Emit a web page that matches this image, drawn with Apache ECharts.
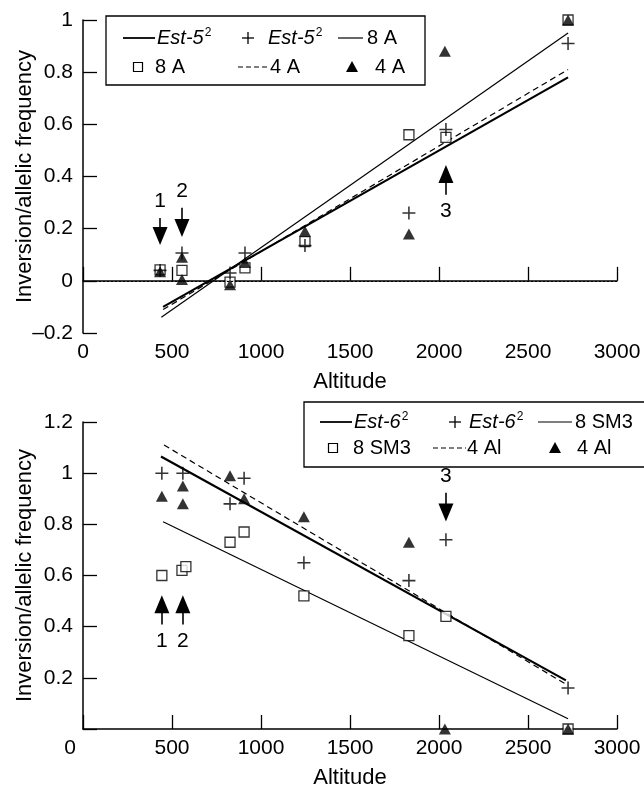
<!DOCTYPE html>
<html>
<head>
<meta charset="utf-8">
<script src="https://cdn.jsdelivr.net/npm/echarts@6/dist/echarts.min.js"></script>
<style>
  html, body { margin: 0; background: #fff; }
  #chart { width: 644px; height: 790px; }
</style>
</head>
<body>
<div id="chart"></div>
<script>
// upper panel: Est-5^2 allele, 8 A and 4 A arrangements
var est5Pts = [[433, 0.04], [556, 0.107], [826, 0.03], [910, 0.107], [1247, 0.135], [1831, 0.26], [2039, 0.58], [2725, 0.91]];
var a8Pts = [[433, 0.042], [556, 0.04], [826, -0.005], [910, 0.05], [1247, 0.15], [1831, 0.56], [2039, 0.55], [2725, 1.0]];
var a4Pts = [[433, 0.035], [556, 0.09], [556, 0.005], [826, -0.015], [910, 0.07], [1247, 0.19], [1831, 0.18], [2033, 0.88], [2725, 1.0]];
// fitted lines (two ends)
var est5Fit = [[450, -0.10], [2725, 0.78]];
var a8Fit = [[440, -0.14], [2725, 0.95]];
var a4Fit = [[450, -0.11], [2725, 0.81]];
// arrows: label, altitude, tail value, head value
var arrowsTop = [['1', 433, 0.241, 0.172], ['2', 556, 0.28, 0.203], ['3', 2039, 0.33, 0.41]];

// lower panel: Est-6^2 allele, 8 SM3 and 4 Al arrangements
var est6Pts = [[443, 1.0], [561, 1.0], [826, 0.88], [905, 0.98], [1241, 0.65], [1831, 0.58], [2039, 0.74], [2725, 0.16]];
var sm3Pts = [[443, 0.60], [556, 0.62], [578, 0.635], [826, 0.73], [905, 0.77], [1241, 0.52], [1831, 0.365], [2039, 0.44], [2725, 0.0]];
var alPts = [[443, 0.91], [561, 0.95], [561, 0.88], [826, 0.99], [905, 0.90], [1241, 0.83], [1831, 0.73], [2033, 0.0], [2725, 0.0]];
var est6Fit = [[438, 1.065], [2713, 0.19]];
var sm3Fit = [[450, 0.81], [2725, 0.04]];
var alFit = [[455, 1.11], [2713, 0.175]];
var arrowsBottom = [['1', 443, 0.408, 0.488], ['2', 561, 0.408, 0.488], ['3', 2039, 0.923, 0.846]];

var FONT = '"Liberation Sans", Arial, sans-serif';
var INK = '#000';
var PLUS = 'path://M44,0H56V44H100V56H56V100H44V56H0V44H44Z';

var myChart = echarts.init(document.getElementById('chart'));

function axisX(idx, shiftZero) {
  return {
    type: 'value', gridIndex: idx, min: 0, max: 3000, interval: 500,
    name: 'Altitude', nameLocation: 'middle', nameGap: 38, nameMoveOverlap: false,
    nameTextStyle: { color: INK, fontSize: 22, fontFamily: FONT },
    axisLine: { lineStyle: { color: INK, width: 1.5 } },
    axisTick: { inside: true, length: 14, lineStyle: { color: INK, width: 1.3 } },
    splitLine: { show: false },
    axisLabel: {
      color: INK, fontSize: 21, fontFamily: FONT, margin: 9,
      formatter: function (v) { return (shiftZero && v === 0) ? '{z|0}' : String(v) },
      rich: { z: { fontSize: 21, fontFamily: FONT, color: INK, padding: [0, 26, 0, 0] } }
    }
  }
}

function axisY(idx, min, max, fmt) {
  return {
    type: 'value', gridIndex: idx, min: min, max: max, interval: 0.2,
    name: 'Inversion/allelic frequency', nameLocation: 'middle', nameGap: 47, nameMoveOverlap: false,
    nameTextStyle: { color: INK, fontSize: 22, fontFamily: FONT },
    axisLine: { show: true, lineStyle: { color: INK, width: 1.5 } },
    axisTick: { show: true, inside: true, length: 14, lineStyle: { color: INK, width: 1.3 } },
    splitLine: { show: false },
    axisLabel: { color: INK, fontSize: 21, fontFamily: FONT, margin: 10, formatter: fmt }
  }
}

function fmtTop(v) {
  v = Math.round(v * 10) / 10
  if (v === 0) return '0'
  if (v < 0) return '\u2013' + String(-v)
  return String(v)
}
function fmtBottom(v) {
  v = Math.round(v * 10) / 10
  return v === 0 ? '' : String(v)
}

function pts(name, idx, data, kind) {
  var s = { name: name, type: 'scatter', xAxisIndex: idx, yAxisIndex: idx, data: data, silent: true }
  if (kind === 'cross') {
    s.symbol = PLUS; s.symbolSize = 13
    s.itemStyle = { color: INK }
    s.z = 4
  } else if (kind === 'square') {
    s.symbol = 'rect'; s.symbolSize = 10
    s.itemStyle = { color: '#fff', borderColor: INK, borderWidth: 1.3 }
    s.z = 2
  } else {
    s.symbol = 'triangle'; s.symbolSize = [12, 11]
    s.itemStyle = { color: INK }
    s.z = 3
  }
  return s
}

function fit(name, idx, data, width, dashed) {
  return {
    name: name, type: 'line', xAxisIndex: idx, yAxisIndex: idx, data: data,
    symbol: 'none', silent: true, z: 1,
    lineStyle: { color: INK, width: width, type: dashed ? [6, 4] : 'solid' }
  }
}

function arrowMark(list) {
  return {
    silent: true, animation: false,
    symbol: ['none', 'triangle'], symbolSize: [15, 18],
    lineStyle: { color: INK, width: 1.6, type: 'solid' },
    label: { show: true, position: 'start', distance: 6, formatter: '{b}', color: INK, fontSize: 21, fontFamily: FONT },
    data: list.map(function (a) {
      return [{ coord: [a[1], a[2]], name: a[0] }, { coord: [a[1], a[3]] }]
    })
  }
}

// legend boxes drawn as graphics
function legendItems(box, rows) {
  var els = [{
    type: 'rect', shape: { x: box[0], y: box[1], width: box[2], height: box[3] },
    style: { fill: 'none', stroke: INK, lineWidth: 1.3 }
  }]
  rows.forEach(function (it) {
    var y = it.y
    if (it.type === 'line') {
      els.push({ type: 'line', shape: { x1: it.x1, y1: y, x2: it.x2, y2: y },
        style: { stroke: INK, lineWidth: it.w || 1.2, lineDash: it.dash ? [5, 3] : null } })
    } else if (it.type === 'square') {
      els.push({ type: 'rect', shape: { x: it.x - 4.5, y: y - 4.5, width: 9, height: 9 },
        style: { fill: '#fff', stroke: INK, lineWidth: 1.2 } })
    } else if (it.type === 'tri') {
      els.push({ type: 'polygon', shape: { points: [[it.x, y - 6], [it.x - 6, y + 5], [it.x + 6, y + 5]] },
        style: { fill: INK } })
    } else if (it.type === 'plus') {
      els.push({ type: 'line', shape: { x1: it.x - 6, y1: y, x2: it.x + 6, y2: y }, style: { stroke: INK, lineWidth: 1.3 } })
      els.push({ type: 'line', shape: { x1: it.x, y1: y - 6, x2: it.x, y2: y + 6 }, style: { stroke: INK, lineWidth: 1.3 } })
    } else {
      els.push({ type: 'text', x: it.x, y: y,
        style: {
          text: it.text, fill: INK, font: '20px ' + FONT, verticalAlign: 'middle', align: 'left',
          rich: {
            n: { fontStyle: 'italic', fontSize: 20, fontFamily: FONT, fill: INK },
            s: { fontSize: 12, fontFamily: FONT, fill: INK, padding: [0, 0, 10, 1] }
          }
        } })
    }
  })
  return els
}

var topLegend = legendItems([106, 16, 319, 69], [
  { type: 'line', x1: 123, x2: 155, y: 38, w: 1.8 },
  { type: 'text', x: 157, y: 38, text: '{n|Est-5}{s|2}' },
  { type: 'plus', x: 248, y: 38 },
  { type: 'text', x: 268, y: 38, text: '{n|Est-5}{s|2}' },
  { type: 'line', x1: 338, x2: 363, y: 38 },
  { type: 'text', x: 367, y: 38, text: '8 A' },
  { type: 'square', x: 138, y: 67 },
  { type: 'text', x: 155, y: 67, text: '8 A' },
  { type: 'line', x1: 238, x2: 268, y: 67, dash: true },
  { type: 'text', x: 270, y: 67, text: '4 A' },
  { type: 'tri', x: 352, y: 67 },
  { type: 'text', x: 375, y: 67, text: '4 A' }
])

var bottomLegend = legendItems([304, 402, 360, 65], [
  { type: 'line', x1: 320, x2: 352, y: 422, w: 1.8 },
  { type: 'text', x: 354, y: 422, text: '{n|Est-6}{s|2}' },
  { type: 'plus', x: 455, y: 422 },
  { type: 'text', x: 469, y: 422, text: '{n|Est-6}{s|2}' },
  { type: 'line', x1: 538, x2: 572, y: 422 },
  { type: 'text', x: 575, y: 422, text: '8 SM3' },
  { type: 'square', x: 333, y: 448 },
  { type: 'text', x: 353, y: 448, text: '8 SM3' },
  { type: 'line', x1: 433, x2: 466, y: 448, dash: true },
  { type: 'text', x: 467, y: 448, text: '4 Al' },
  { type: 'tri', x: 555, y: 448 },
  { type: 'text', x: 577, y: 448, text: '4 Al' }
])

var topCross = pts('Est-5²', 0, est5Pts, 'cross')
topCross.markLine = arrowMark(arrowsTop)
var zeroLine = {
  name: 'zero', type: 'line', xAxisIndex: 0, yAxisIndex: 0, data: [], silent: true,
  markLine: {
    silent: true, animation: false, symbol: 'none', label: { show: false },
    lineStyle: { color: INK, width: 1.1, type: [2, 2] },
    data: [{ yAxis: 0 }]
  }
}
var bottomCross = pts('Est-6²', 1, est6Pts, 'cross')
bottomCross.markLine = arrowMark(arrowsBottom)

myChart.setOption({
  animation: false,
  backgroundColor: '#fff',
  textStyle: { fontFamily: FONT },
  grid: [
    { left: 83, right: 27, top: 20, height: 313 },
    { left: 83, right: 27, top: 422, height: 311 }
  ],
  xAxis: [axisX(0, false), axisX(1, true)],
  yAxis: [axisY(0, -0.2, 1, fmtTop), axisY(1, 0, 1.2, fmtBottom)],
  graphic: topLegend.concat(bottomLegend),
  series: [
    zeroLine,
    fit('Est-5² fit', 0, est5Fit, 2.2, false),
    fit('8 A fit', 0, a8Fit, 1.2, false),
    fit('4 A fit', 0, a4Fit, 1.2, true),
    pts('8 A', 0, a8Pts, 'square'),
    pts('4 A', 0, a4Pts, 'triangle'),
    topCross,
    fit('Est-6² fit', 1, est6Fit, 2.2, false),
    fit('8 SM3 fit', 1, sm3Fit, 1.2, false),
    fit('4 Al fit', 1, alFit, 1.2, true),
    pts('8 SM3', 1, sm3Pts, 'square'),
    pts('4 Al', 1, alPts, 'triangle'),
    bottomCross
  ]
})

window.addEventListener('resize', function () {
  myChart.resize()
})
</script>
</body>
</html>
